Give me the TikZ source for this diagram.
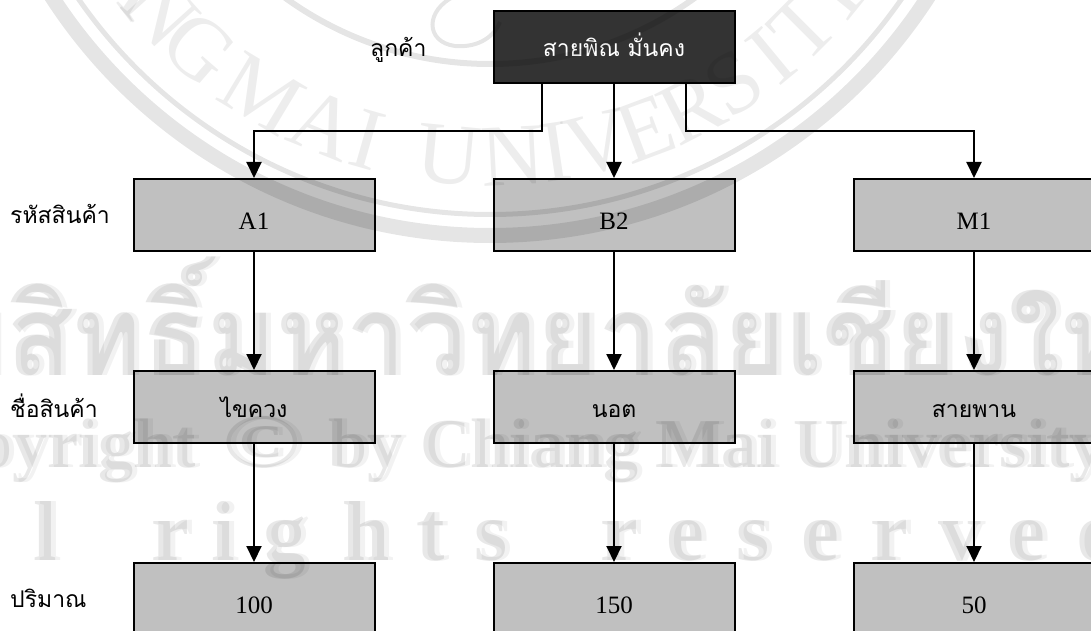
\documentclass[tikz,border=0pt]{standalone}
\usepackage{fontspec}
\setmainfont{Liberation Serif}
\newfontfamily\thaifont[Script=Thai]{Loma}
\newfontfamily\thaimark[Script=Thai,FakeStretch=.95]{Loma}
\usetikzlibrary{arrows.meta}
\definecolor{boxgray}{HTML}{C0C0C0}
\definecolor{topdark}{HTML}{333333}
\tikzset{
  databox/.style={draw=black, line width=2pt, fill=boxgray, minimum width=241pt, minimum height=72pt, inner sep=0pt},
  latinbox/.style={databox, text height=28pt, text depth=0pt, font=\fontsize{25}{28}\selectfont},
  thaibox/.style={databox, text height=20pt, text depth=0pt, font=\fontsize{23}{26}\selectfont\thaifont},
  topbox/.style={thaibox, fill=topdark, text=white},
  rowlabel/.style={inner sep=0pt, anchor=base west, font=\fontsize{23}{26}\selectfont\thaifont},
  link/.style={line width=2pt, -{Triangle[length=16pt,width=15pt]}},
  wmark/.style={draw=black, draw opacity=.1},
  wmtext/.style={inner sep=0pt, text=black, text opacity=.09},
  wmghost/.style={inner sep=0pt, text=black, text opacity=.05},
  wmring/.style={inner sep=0pt, text=black, text opacity=.07}
}
\begin{document}
\begin{tikzpicture}[x=1pt, y=-1pt]
\useasboundingbox (0,0) rectangle (1091,631);
\clip (0,0) rectangle (1091,631);
% customer box and row labels
\node[topbox] (cust) at (614,47) {สายพิณ มั่นคง};
\node[rowlabel] (lcust) at (370,57) {ลูกค้า};
\node[rowlabel] (lcode) at (10,223) {รหัสสินค้า};
\node[rowlabel] (lname) at (10,417) {ชื่อสินค้า};
\node[rowlabel] (lqty) at (10,607) {ปริมาณ};
% three product columns
\foreach \c/\x/\code/\name/\qty in {a/254/A1/ไขควง/100, b/614/B2/นอต/150, m/974/M1/สายพาน/50} {
  \node[latinbox] (\c1) at (\x,215) {\code};
  \node[thaibox] (\c2) at (\x,407) {\name};
  \node[latinbox] (\c3) at (\x,599) {\qty};
  \draw[link] (\c1) -- (\c2);
  \draw[link] (\c2) -- (\c3);
}
% from customer to codes
\coordinate (busl) at (542,131);
\coordinate (busr) at (686,131);
\draw[link] (cust.south -| busl) -- (busl) -| (a1);
\draw[link] (cust) -- (b1);
\draw[link] (cust.south -| busr) -- (busr) -| (m1);
% seal
\draw[wmark, line width=15pt] (490,-286) circle (521.5pt);
\draw[wmark, line width=5pt] (490,-286) circle (500.5pt);
\draw[wmark, line width=6pt] (490,-286) circle (350pt);
\draw[wmark, line width=4pt] (455,-4) .. controls (425,10) and (425,42) .. (455,46) .. controls (480,48) and (495,35) .. (500,22);
\foreach \ch/\ang in {C/-68, H/-62, I/-57, A/-53, N/-48, G/-41, M/-31, A/-22, I/-16, U/-5.4, N/3, I/8.5, V/14, E/20.5, R/27, S/33.5, I/39.5, T/45, Y/51} {
  \pgfmathsetmacro{\wx}{490+443*sin(\ang)}
  \pgfmathsetmacro{\wy}{-286+443*cos(\ang)}
  \node[wmring, rotate=\ang, font=\fontsize{88}{90}\selectfont] (w\ang) at (\wx,\wy) {\ch};
}
% watermark lines, each with a lighter copy beside it
\foreach \dx/\st/\id in {5/wmghost/g, 0/wmtext/m} {
  \node[\st, anchor=base, font=\fontsize{112}{114}\selectfont\thaimark\bfseries] (wth\id) at (535+\dx,375) {ลิขสิทธิ์มหาวิทยาลัยเชียงใหม่};
  \node[\st, anchor=base west, font=\fontsize{70}{72}\selectfont\bfseries] (wcp\id) at (-112+\dx,467) {Copyright\hspace{27pt}\scalebox{1.5}[1.1]{©}\hspace{28pt}by Chiang Mai University};
  \foreach \ch/\x in {A/-80, l/-17, l/45, r/170, i/223, g/285, h/366, t/431, s/491, r/619, e/685, s/753, e/820, r/889, v/960, e/1026, d/1100} {
    \node[\st, anchor=base, font=\fontsize{85}{87}\selectfont\bfseries] (wr\id\x) at (\x+\dx,560) {\ch};
  }
}
\end{tikzpicture}
\end{document}
